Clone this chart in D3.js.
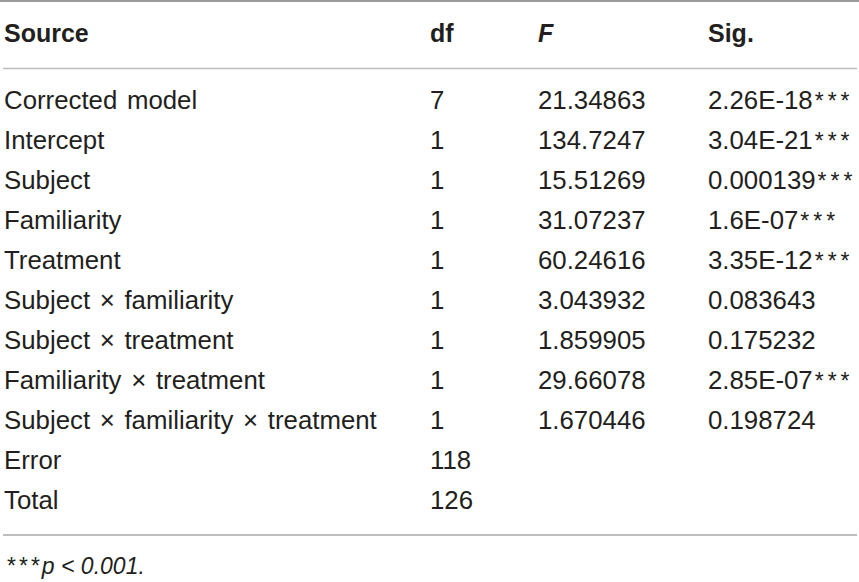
<!DOCTYPE html>
<html>
<head>
<meta charset="utf-8">
<script src="https://cdn.jsdelivr.net/npm/d3@7"></script>
<style>
  html, body { margin: 0; padding: 0; background: #fff; }
  svg { display: block; }
  text { font-family: "Liberation Sans", Arial, sans-serif; fill: #231f20; }
</style>
</head>
<body>
<svg width="859" height="582"></svg>
<script>
// table contents
var headers = ['Source', 'df', 'F', 'Sig.'];
var sources = [
	'Corrected model',
	'Intercept',
	'Subject',
	'Familiarity',
	'Treatment',
	'Subject \u00d7 familiarity',
	'Subject \u00d7 treatment',
	'Familiarity \u00d7 treatment',
	'Subject \u00d7 familiarity \u00d7 treatment',
	'Error',
	'Total'
];
var dfs = ['7', '1', '1', '1', '1', '1', '1', '1', '1', '118', '126'];
var fValues = ['21.34863', '134.7247', '15.51269', '31.07237', '60.24616',
	'3.043932', '1.859905', '29.66078', '1.670446', '', ''];
var sigValues = ['2.26E-18***', '3.04E-21***', '0.000139***', '1.6E-07***', '3.35E-12***',
	'0.083643', '0.175232', '2.85E-07***', '0.198724', '', ''];
var footnote = '***p < 0.001.';

var svg = d3.select('svg'),
	width = 859;

// columns
var x = d3.scaleOrdinal()
	.domain(headers)
	.range([4, 430, 538, 708]);

// rows (baselines)
var y = d3.scalePoint()
	.domain(d3.range(sources.length))
	.range([108.5, 108.5 + 40 * (sources.length - 1)]);

// rules
svg.append('line')
	.attr('x1', 0).attr('x2', width)
	.attr('y1', 1).attr('y2', 1)
	.attr('stroke', '#9a9a9a').attr('stroke-width', 2);
svg.append('line')
	.attr('x1', 3).attr('x2', 857)
	.attr('y1', 68.5).attr('y2', 68.5)
	.attr('stroke', '#bdbdbd').attr('stroke-width', 1.6);
svg.append('line')
	.attr('x1', 3).attr('x2', 857)
	.attr('y1', 535).attr('y2', 535)
	.attr('stroke', '#a8a8a8').attr('stroke-width', 1.4);

// header
svg.selectAll('text.head')
	.data(headers)
	.enter().append('text')
	.attr('class', 'head')
	.attr('x', function(d) { return x(d); })
	.attr('y', 42)
	.attr('font-size', 25)
	.attr('font-weight', 'bold')
	.attr('font-style', function(d) { return d === 'F' ? 'italic' : 'normal'; })
	.text(function(d) { return d; });

// body
var rows = sources.map(function(s, i) {
	return {i: i, cells: [s, dfs[i], fValues[i], sigValues[i]]};
});

var row = svg.selectAll('g.row')
	.data(rows)
	.enter().append('g')
	.attr('class', 'row')
	.attr('transform', function(d) { return 'translate(0,' + y(d.i) + ')'; });

row.selectAll('text')
	.data(function(d) { return d.cells; })
	.enter().append('text')
	.attr('x', function(d, j) { return x(headers[j]); })
	.attr('font-size', 25.8)
	.attr('word-spacing', 2.5)
	.each(function(d) {
		var m = d.match(/^([^*]*)(\**)$/);
		var t = d3.select(this);
		t.append('tspan').text(m[1]);
		if (m[2]) {
			t.append('tspan')
				.attr('dx', 2)
				.attr('letter-spacing', 4)
				.attr('font-size', 23)
				.text(m[2]);
		}
	});

// footnote
var fn = footnote.match(/^(\**)(.*)$/);
var ft = svg.append('text')
	.attr('x', 6)
	.attr('y', 574)
	.attr('font-size', 23)
	.attr('font-style', 'italic');
ft.append('tspan')
	.attr('letter-spacing', 3)
	.text(fn[1]);
ft.append('tspan').text(fn[2]);
</script>
</body>
</html>
